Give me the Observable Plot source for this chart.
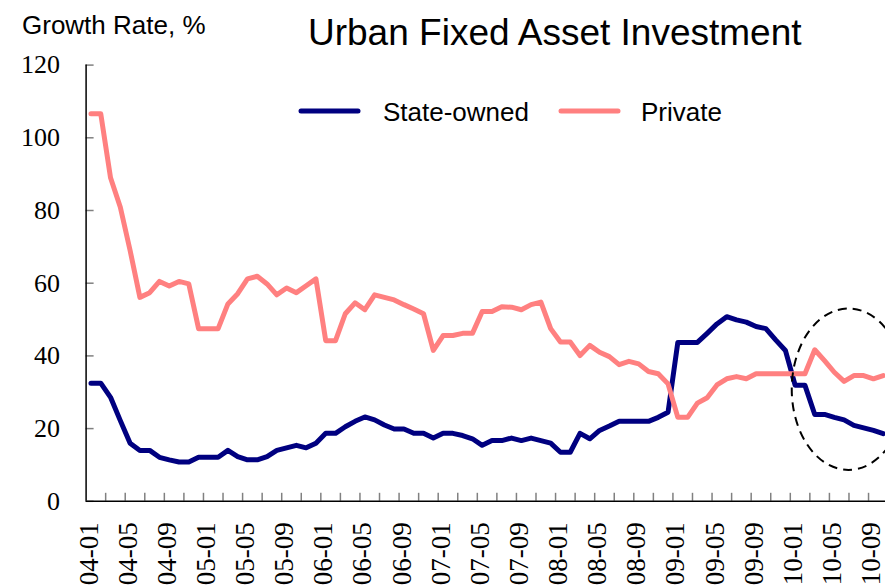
<!DOCTYPE html>
<html><head><meta charset="utf-8">
<script src="https://cdn.jsdelivr.net/npm/d3@7"></script>
<script src="https://cdn.jsdelivr.net/npm/@observablehq/plot@0.6"></script>
<style>
body{margin:0;background:#fff;}
#wrap{position:relative;width:885px;height:588px;overflow:hidden;}
</style></head><body><div id="wrap"></div>
<script>
const months = [
"04-01","04-02","04-03","04-04","04-05","04-06","04-07","04-08","04-09","04-10","04-11","04-12",
"05-01","05-02","05-03","05-04","05-05","05-06","05-07","05-08","05-09","05-10","05-11","05-12",
"06-01","06-02","06-03","06-04","06-05","06-06","06-07","06-08","06-09","06-10","06-11","06-12",
"07-01","07-02","07-03","07-04","07-05","07-06","07-07","07-08","07-09","07-10","07-11","07-12",
"08-01","08-02","08-03","08-04","08-05","08-06","08-07","08-08","08-09","08-10","08-11","08-12",
"09-01","09-02","09-03","09-04","09-05","09-06","09-07","09-08","09-09","09-10","09-11","09-12",
"10-01","10-02","10-03","10-04","10-05","10-06","10-07","10-08","10-09","10-10"];

const stateOwned = [
32.5,32.5,28.6,22.2,16.0,14.0,14.0,12.1,11.4,10.8,10.8,12.1,
12.1,12.1,14.0,12.3,11.4,11.4,12.3,14.0,14.7,15.4,14.7,16.0,
18.7,18.7,20.5,22.0,23.2,22.4,21.0,19.9,19.9,18.7,18.7,17.4,
18.7,18.7,18.1,17.2,15.4,16.7,16.7,17.4,16.7,17.4,16.7,16.0,
13.5,13.5,18.7,17.2,19.5,20.7,22.0,22.0,22.0,22.0,23.1,24.5,
43.7,43.7,43.7,46.2,48.8,50.8,49.9,49.3,48.1,47.5,44.4,41.5,
31.9,31.9,23.9,23.9,23.1,22.4,20.9,20.2,19.5,18.6];

const privateInv = [
106.6,106.6,89.0,80.9,69.0,56.1,57.4,60.5,59.2,60.5,59.8,47.5,
47.5,47.5,54.3,57.1,61.2,61.9,59.8,56.8,58.7,57.4,59.3,61.2,
44.2,44.2,51.6,54.6,52.7,56.8,56.1,55.4,54.1,52.9,51.6,41.5,
45.6,45.6,46.2,46.2,52.2,52.2,53.5,53.4,52.7,54.1,54.8,47.5,
43.8,43.8,40.1,42.9,41.0,39.8,37.6,38.5,37.8,35.7,35.1,32.3,
23.1,23.1,27.0,28.5,32.0,33.7,34.3,33.7,35.1,35.1,35.1,35.1,
35.1,35.1,41.7,38.7,35.5,33.0,34.6,34.6,33.7,34.6];

const xTickLabels = ["04-01","04-05","04-09","05-01","05-05","05-09","06-01","06-05","06-09",
"07-01","07-05","07-09","08-01","08-05","08-09","09-01","09-05","09-09","10-01","10-05","10-09"];
const yTicks = [0,20,40,60,80,100,120];
const seriesNames = ["State-owned","Private"];
const seriesColors = ["#000080","#FF8080"];
const titleText = "Urban Fixed Asset Investment";
const yAxisTitle = "Growth Rate, %";
// annotation ellipse: centre (month index, value) and radii (months, points)
const ellipseNote = {cx: 77.5, cy: 30.7, rx: 5.8, ry: 22.2};

const stateRows = stateOwned.map((v, i) => ({i, month: months[i], v}));
const privateRows = privateInv.map((v, i) => ({i, month: months[i], v}));
const labelIdx = xTickLabels.map(l => months.indexOf(l));
const boundaryTicks = d3.range(1.5, months.length - 0.5, 2);

const serif = "Liberation Serif, Times New Roman, serif";
const sans = "Liberation Sans, Arial, sans-serif";

const chart = Plot.plot({
  width: 885, height: 588,
  marginLeft: 85.6, marginRight: -2.6, marginTop: 64.6, marginBottom: 87.2,
  style: {background: "#fff", color: "#000", overflow: "hidden"},
  x: {type: "linear", domain: [-0.5, months.length - 0.5]},
  y: {domain: [0, 120]},
  marks: [
    Plot.axisY(yTicks, {anchor: "left", tickSize: -8, tickFormat: () => "", stroke: "#808080", strokeWidth: 1.5, label: null}),
    Plot.axisY(yTicks, {anchor: "left", tickSize: 0, tickPadding: 26, fontSize: 26, fontFamily: serif, fill: "#000", label: null}),
    Plot.axisX(boundaryTicks, {anchor: "bottom", tickSize: -8, tickFormat: () => "", stroke: "#808080", strokeWidth: 1.5, label: null}),
    Plot.axisX(labelIdx, {anchor: "bottom", tickSize: 0, tickPadding: 21, tickRotate: -90, dx: -2,
      tickFormat: i => months[i], fontSize: 27, fontFamily: serif, fill: "#000", label: null}),
    Plot.ruleX([-0.5], {stroke: "#000", strokeWidth: 1.5}),
    Plot.ruleY([0], {stroke: "#000", strokeWidth: 1.5}),
    Plot.line(stateRows, {x: "i", y: "v", stroke: seriesColors[0], strokeWidth: 5, strokeLinejoin: "round", strokeLinecap: "round"}),
    Plot.line(privateRows, {x: "i", y: "v", stroke: seriesColors[1], strokeWidth: 5, strokeLinejoin: "round", strokeLinecap: "round"})
  ]
});

const svg = d3.select(chart);
const sx = chart.scale("x"), sy = chart.scale("y");
const ecx = sx.apply(ellipseNote.cx), ecy = sy.apply(ellipseNote.cy);
svg.append("ellipse")
  .attr("cx", ecx).attr("cy", ecy)
  .attr("rx", Math.abs(sx.apply(ellipseNote.cx + ellipseNote.rx) - ecx))
  .attr("ry", Math.abs(sy.apply(ellipseNote.cy + ellipseNote.ry) - ecy))
  .attr("fill", "none").attr("stroke", "#000").attr("stroke-width", 2).attr("stroke-dasharray", "9,6");

svg.append("text").attr("x", 308).attr("y", 45).attr("text-anchor", "start")
  .attr("font-family", sans).attr("font-size", 37).attr("fill", "#000").text(titleText);
svg.append("text").attr("x", 22).attr("y", 34).attr("text-anchor", "start")
  .attr("font-family", sans).attr("font-size", 26).attr("fill", "#000").text(yAxisTitle);

const legendPos = [{x: 301, tx: 383}, {x: 561, tx: 641}];
seriesNames.forEach((name, k) => {
  const p = legendPos[k];
  svg.append("line").attr("x1", p.x).attr("x2", p.x + 57).attr("y1", 111).attr("y2", 111)
    .attr("stroke", seriesColors[k]).attr("stroke-width", 5).attr("stroke-linecap", "round");
  svg.append("text").attr("x", p.tx).attr("y", 121).attr("text-anchor", "start")
    .attr("font-family", sans).attr("font-size", 26).attr("fill", "#000").text(name);
});

document.getElementById("wrap").appendChild(chart);
</script></body></html>
